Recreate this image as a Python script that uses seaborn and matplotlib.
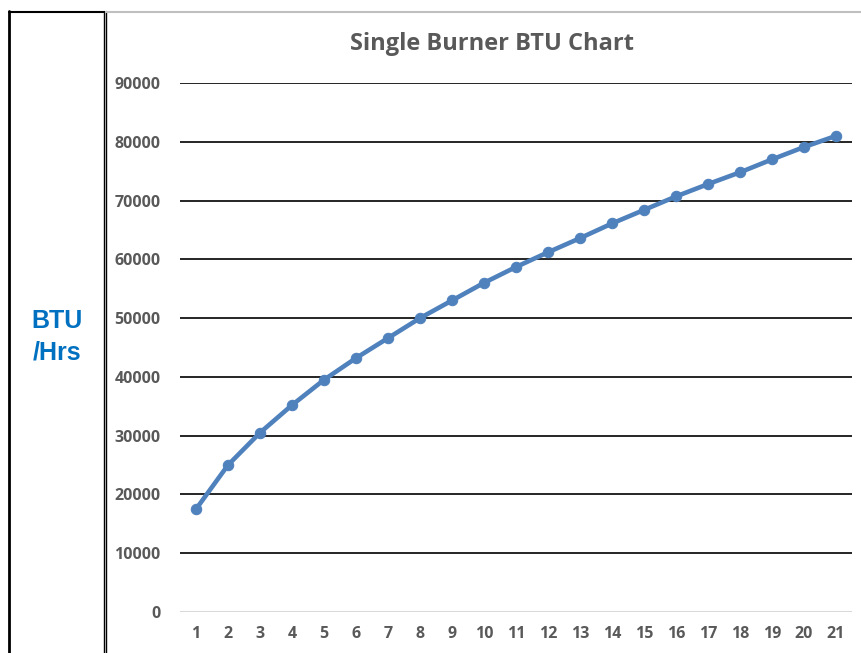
import seaborn as sns
import matplotlib.pyplot as plt
import pandas as pd
from matplotlib.lines import Line2D

# values
burner_step = list(range(1, 22))
btu_per_hr = [17500, 25000, 30500, 35200, 39500, 43200, 46600, 50000, 53000, 56000,
              58700, 61200, 63600, 66100, 68400, 70700, 72800, 74800, 77000, 79100, 81000]
y_ticks = [0, 10000, 20000, 30000, 40000, 50000, 60000, 70000, 80000, 90000]

df = pd.DataFrame({'step': burner_step, 'btu': btu_per_hr})

sns.set_style('white')
plt.rcParams['font.family'] = ['Open Sans', 'DejaVu Sans']

fig = plt.figure(figsize=(8.62, 6.53), dpi=100)
ax = fig.add_axes([180 / 862, 1 - 612 / 653, 672 / 862, (612 - 83) / 653])

sns.lineplot(x='step', y='btu', data=df, ax=ax, color='#4F81BD', linewidth=3.3,
             marker='o', markersize=7.5, markeredgecolor='#4F81BD', zorder=3)

ax.set_xlim(0.5, 21.5)
ax.set_ylim(0, 90000)
ax.set_xticks(burner_step)
ax.set_yticks(y_ticks)
ax.set_xticklabels([str(s) for s in burner_step], fontweight='bold', color='#595959', fontsize=11.5)
ax.set_yticklabels([str(v) for v in y_ticks], fontweight='bold', color='#595959', fontsize=11.5)
ax.tick_params(length=0, pad=10)
ax.tick_params(axis='y', pad=14)
ax.set_xlabel('')
ax.set_ylabel('')
for s in ax.spines.values():
    s.set_visible(False)

for v in y_ticks[1:]:
    ax.axhline(v, color='black', linewidth=1.2, zorder=1)
ax.axhline(0, color='#D9D9D9', linewidth=1.5, zorder=1)

fig.text(492 / 862, 1 - 44 / 653, 'Single Burner BTU Chart', ha='center', va='center',
         fontsize=17, fontweight='bold', color='#595959')

fig.text(57 / 862, 1 - 321 / 653, 'BTU', ha='center', va='center', fontsize=18,
         fontweight='bold', color='#0070C0', family=['Liberation Sans', 'DejaVu Sans'])
fig.text(57 / 862, 1 - 352 / 653, '/Hrs', ha='center', va='center', fontsize=18,
         fontweight='bold', color='#0070C0', family=['Liberation Sans', 'DejaVu Sans'])

# frame around the label box and the chart area
def px_line(xs, ys, **kw):
    fig.add_artist(Line2D([x / 862 for x in xs], [1 - y / 653 for y in ys],
                          transform=fig.transFigure, **kw))

px_line([9.5, 9.5], [11, 653], color='black', linewidth=2)
px_line([9, 104], [11.5, 11.5], color='black', linewidth=1.5)
px_line([104, 104], [11, 653], color='black', linewidth=1)
px_line([106, 106], [11, 653], color='black', linewidth=1)
px_line([106, 862], [11.5, 11.5], color='#BFBFBF', linewidth=1.5)

fig.savefig('out.png', dpi=100)
